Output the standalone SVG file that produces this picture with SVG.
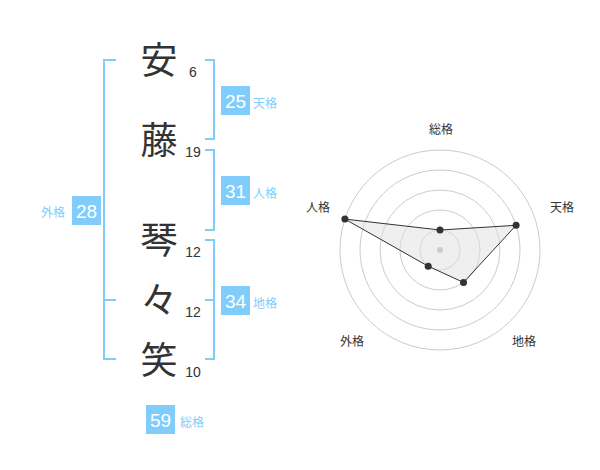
<svg xmlns="http://www.w3.org/2000/svg" width="600" height="470" viewBox="0 0 600 470">
<style>
.ch{font-family:"Noto Sans CJK JP","Noto Sans",sans-serif;font-size:37px;fill:#333;text-anchor:middle}
.num{font-family:"Liberation Sans","Noto Sans",sans-serif;font-size:14px;fill:#333;text-anchor:middle}
.br{fill:none;stroke:#80cdfb;stroke-width:2}
.box{fill:#80cdfb}
.bn{font-family:"Liberation Sans","Noto Sans",sans-serif;font-size:19px;fill:#fff;text-anchor:middle}
.bl{font-family:"Noto Sans CJK JP",sans-serif;font-size:12px;fill:#80cdfb}
.ring{fill:none;stroke:#ccc;stroke-width:1}
.rl{font-family:"Noto Sans CJK JP",sans-serif;font-size:12px;fill:#333;text-anchor:middle}
.pt{fill:#333}
</style>
<rect width="600" height="470" fill="#fff"/>
<g id="connectors">
<path class="br" d="M116,60 H104 V359 H116 M104,300 H116"/>
<path class="br" d="M205,60 H214 V139 H205"/>
<path class="br" d="M205,150 H214 V230 H205"/>
<path class="br" d="M205,240 H214 V359 H205 M214,300 H205"/>
</g>
<g id="char-an"><text class="ch" x="159" y="74">安</text><text class="num" x="193" y="77">6</text></g>
<g id="char-fuji"><text class="ch" x="159" y="154">藤</text><text class="num" x="193" y="157">19</text></g>
<g id="char-koto"><text class="ch" x="159" y="254">琴</text><text class="num" x="193" y="257">12</text></g>
<g id="char-noma"><text class="ch" x="159" y="314">々</text><text class="num" x="193" y="317">12</text></g>
<g id="char-emi"><text class="ch" x="159" y="374">笑</text><text class="num" x="193" y="377">10</text></g>
<g id="tenkaku"><rect class="box" x="221" y="86" width="29" height="29"/><text class="bn" x="235.5" y="107.5">25</text><text class="bl" x="253" y="108">天格</text></g>
<g id="jinkaku"><rect class="box" x="221" y="176" width="29" height="29"/><text class="bn" x="235.5" y="197.5">31</text><text class="bl" x="253" y="198">人格</text></g>
<g id="chikaku"><rect class="box" x="221" y="286" width="29" height="29"/><text class="bn" x="235.5" y="307.5">34</text><text class="bl" x="253" y="308">地格</text></g>
<g id="gaikaku"><rect class="box" x="72" y="196" width="29" height="29"/><text class="bn" x="86.5" y="217.5">28</text><text class="bl" x="41" y="217">外格</text></g>
<g id="soukaku"><rect class="box" x="146" y="405" width="29" height="29"/><text class="bn" x="160.5" y="426.5">59</text><text class="bl" x="180" y="427">総格</text></g>
<g id="radar">
<circle class="ring" cx="440" cy="250" r="20"/>
<circle class="ring" cx="440" cy="250" r="40"/>
<circle class="ring" cx="440" cy="250" r="60"/>
<circle class="ring" cx="440" cy="250" r="80"/>
<circle class="ring" cx="440" cy="250" r="100"/>
<polygon points="440,230 516.1,225.3 463.5,282.4 428.2,266.2 344.9,219.1" fill="#e0e0e0" fill-opacity="0.5" stroke="#333" stroke-width="1"/>
<circle cx="440" cy="250" r="3" fill="#ccc"/>
<circle class="pt" cx="440" cy="230" r="3.5"/>
<circle class="pt" cx="516.1" cy="225.3" r="3.5"/>
<circle class="pt" cx="463.5" cy="282.4" r="3.5"/>
<circle class="pt" cx="428.2" cy="266.2" r="3.5"/>
<circle class="pt" cx="344.9" cy="219.1" r="3.5"/>
<text class="rl" x="441" y="134">総格</text>
<text class="rl" x="562" y="212">天格</text>
<text class="rl" x="318" y="212">人格</text>
<text class="rl" x="352" y="346">外格</text>
<text class="rl" x="524" y="346">地格</text>
</g>
</svg>
